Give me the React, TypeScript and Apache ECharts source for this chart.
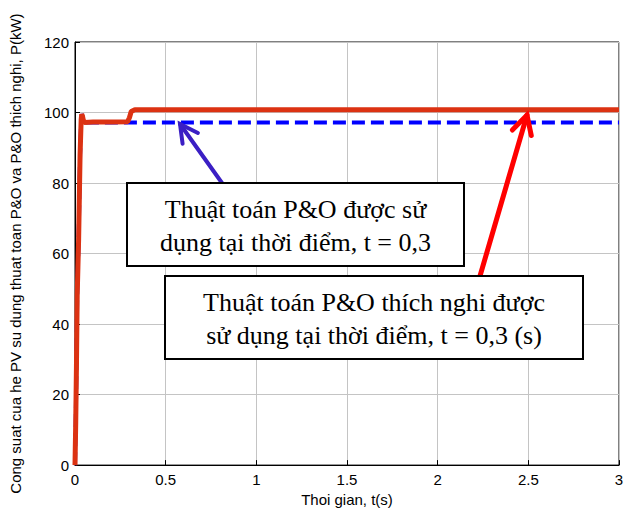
import React, { useEffect, useRef } from "react";
import * as echarts from "echarts";

// Thoi gian t(s) and power P(kW)
const redT = [0, 0.004, 0.008, 0.012, 0.016, 0.02, 0.024, 0.028, 0.031, 0.034, 0.037, 0.041, 0.046, 0.052, 0.1, 0.2, 0.29, 0.3, 0.31, 0.33, 1, 2, 3];
const redP = [0, 12, 28, 48, 56, 64, 76, 88, 93, 98, 99.5, 99, 97.8, 97.2, 97.3, 97.3, 97.4, 98.5, 100.3, 100.8, 100.8, 100.8, 100.8];
const blueT = [0, 0.004, 0.008, 0.012, 0.016, 0.02, 0.024, 0.028, 0.031, 0.034, 0.037, 0.041, 0.046, 0.052, 0.3, 1, 2, 3];
const blueP = [0, 12, 28, 48, 56, 64, 76, 88, 93, 98, 99.5, 99, 97.8, 97.2, 97.2, 97.2, 97.2, 97.2];
const xTicks = [0, 0.5, 1, 1.5, 2, 2.5, 3];
const yTicks = [0, 20, 40, 60, 80, 100, 120];

const label1 = "Thuật toán P&O được sử\ndụng tại thời điểm, t = 0,3";
const label2 = "Thuật toán P&O thích nghi được\nsử dụng tại thời điểm, t = 0,3 (s)";
const xName = "Thoi gian, t(s)";
const yName = "Cong suat cua he PV su dung thuat toan P&O va P&O thich nghi, P(kW)";

function arrow(x1: number, y1: number, x2: number, y2: number, color: string, w: number, head: number) {
  const dx = x1 - x2, dy = y1 - y2;
  const len = Math.hypot(dx, dy);
  const ux = dx / len, uy = dy / len;
  const a = (28 * Math.PI) / 180;
  const rot = (s: number) => [ux * Math.cos(s * a) - uy * Math.sin(s * a), ux * Math.sin(s * a) + uy * Math.cos(s * a)];
  const [lx, ly] = rot(1);
  const [rx, ry] = rot(-1);
  return [
    { type: "line", z: 100, shape: { x1, y1, x2, y2 }, style: { stroke: color, lineWidth: w, lineCap: "round" } },
    {
      type: "polyline", z: 100,
      shape: { points: [[x2 + lx * head, y2 + ly * head], [x2, y2], [x2 + rx * head, y2 + ry * head]] },
      style: { stroke: color, lineWidth: w, lineCap: "round", lineJoin: "miter", fill: "none" },
    },
  ];
}

function box(x: number, y: number, w: number, h: number, text: string) {
  return [
    { type: "rect", z: 110, shape: { x, y, width: w, height: h }, style: { fill: "#fff", stroke: "#000", lineWidth: 2 } },
    {
      type: "text", z: 111, x: x + w / 2, y: y + h / 2 + 1,
      style: { text, fill: "#000", font: "26px 'Liberation Serif', 'DejaVu Serif', serif", align: "center", verticalAlign: "middle", lineHeight: 33 },
    },
  ];
}

export default function App() {
  const ref = useRef<HTMLDivElement>(null);
  useEffect(() => {
    if (!ref.current) return;
    const chart = echarts.init(ref.current, undefined, { renderer: "svg" });
    const font = "'Liberation Sans', Arial, sans-serif";
    chart.setOption({
      animation: false,
      backgroundColor: "#fff",
      grid: { left: 72, right: 16, top: 42, bottom: 46, show: true, borderColor: "#000", borderWidth: 1, backgroundColor: "#fff" },
      xAxis: {
        type: "value", min: 0, max: 3, interval: 0.5,
        name: xName, nameLocation: "middle", nameGap: 22,
        nameTextStyle: { fontFamily: font, fontSize: 15, color: "#000" },
        axisLine: { show: true, onZero: false, lineStyle: { color: "#000", width: 1 } },
        axisTick: { show: true, inside: true, length: 5, lineStyle: { color: "#000" } },
        axisLabel: { fontFamily: font, fontSize: 15, color: "#000", margin: 7, formatter: (v: number) => (xTicks.includes(v) ? String(v) : "") },
        splitLine: { show: true, lineStyle: { color: "#c4c4c4", width: 1 } },
      },
      yAxis: {
        type: "value", min: 0, max: 120, interval: 20,
        name: yName, nameLocation: "middle", nameGap: 52,
        nameTextStyle: { fontFamily: font, fontSize: 15, color: "#000" },
        axisLine: { show: true, lineStyle: { color: "#000", width: 1 } },
        axisTick: { show: true, inside: true, length: 5, lineStyle: { color: "#000" } },
        axisLabel: { fontFamily: font, fontSize: 15, color: "#000", margin: 6, formatter: (v: number) => (yTicks.includes(v) ? String(v) : "") },
        splitLine: { show: true, lineStyle: { color: "#c4c4c4", width: 1 } },
      },
      series: [
        {
          type: "line", name: "P&O", showSymbol: false, symbol: "none",
          data: blueT.map((t, i) => [t, blueP[i]]),
          lineStyle: { color: "#0000ff", width: 4, type: [13, 6] },
          z: 2,
        },
        {
          type: "line", name: "P&O thich nghi", showSymbol: false, symbol: "none",
          data: redT.map((t, i) => [t, redP[i]]),
          lineStyle: { color: "#dc3212", width: 5 },
          z: 3,
        },
      ],
      graphic: [
        ...arrow(222, 183, 180, 124, "#3b1fc4", 4, 20),
        ...arrow(480, 276, 527, 115, "#ff0000", 5, 21),
        ...box(127, 183, 337, 83, label1),
        ...box(165, 276, 418, 83, label2),
      ],
    });
    return () => chart.dispose();
  }, []);
  return <div ref={ref} style={{ width: 635, height: 512, position: "absolute", left: 0, top: 0 }} />;
}
